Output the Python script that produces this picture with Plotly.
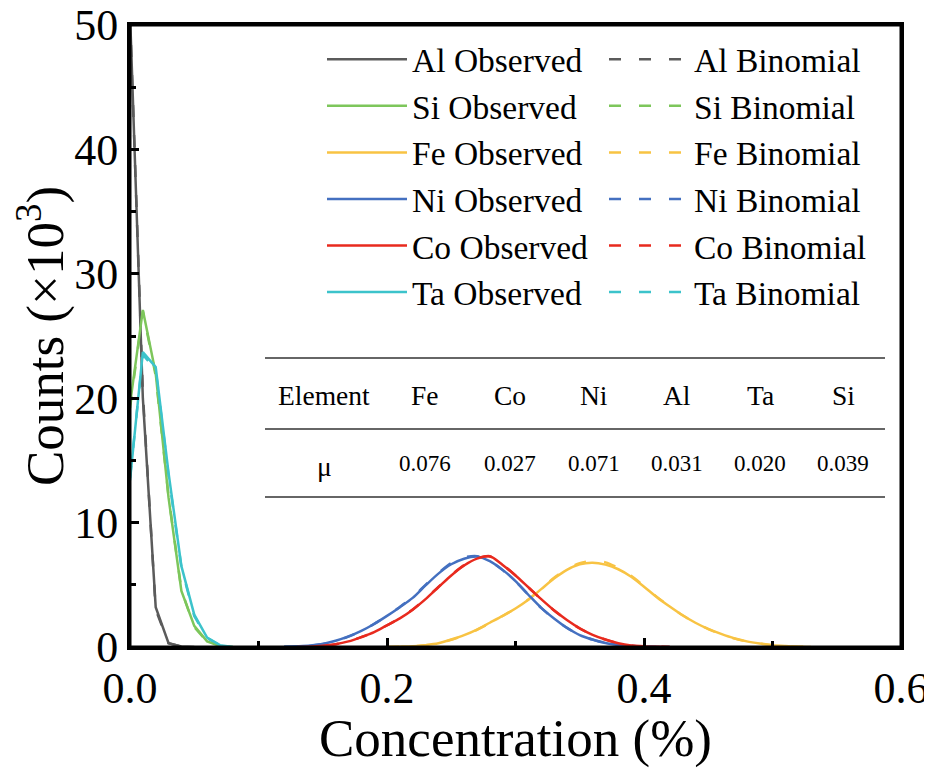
import plotly.graph_objects as go

# ---------------- data ----------------
elements_order = ["Al", "Si", "Fe", "Ni", "Co", "Ta"]
colors = {"Al": "#5b5b5b", "Si": "#7dc65b", "Fe": "#f8c343", "Ni": "#4470c0", "Co": "#e82a1e", "Ta": "#3cc3cb"}

x_low = [0.00, 0.01, 0.02, 0.03, 0.04, 0.05, 0.06, 0.07, 0.08]
al_obs = [51.0, 20.0, 3.2, 0.3, 0.05, 0.0]
al_bin = [50.8, 20.4, 3.0, 0.3, 0.03, 0.0]
si_obs = [19.5, 27.1, 22.0, 12.0, 4.5, 1.7, 0.45, 0.08, 0.0]
si_bin = [19.2, 27.0, 21.8, 12.1, 4.6, 1.6, 0.42, 0.07, 0.0]
ta_obs = [13.4, 23.7, 22.5, 14.0, 6.5, 2.6, 0.75, 0.15, 0.0]
ta_bin = [13.6, 23.5, 22.3, 13.8, 6.4, 2.5, 0.72, 0.13, 0.0]

x_ni = [0.12, 0.13, 0.14, 0.15, 0.16, 0.17, 0.18, 0.19, 0.20, 0.21, 0.22, 0.23, 0.24, 0.25, 0.26,
        0.27, 0.28, 0.29, 0.30, 0.31, 0.32, 0.33, 0.34, 0.35, 0.36, 0.37, 0.38, 0.39, 0.40, 0.41, 0.42]
ni_obs = [0.02, 0.06, 0.12, 0.25, 0.50, 0.85, 1.30, 1.85, 2.50, 3.20, 3.95, 4.95, 5.90, 6.65, 7.10,
          7.28, 6.90, 6.20, 5.30, 4.20, 3.15, 2.30, 1.55, 0.96, 0.60, 0.32, 0.17, 0.08, 0.03, 0.01, 0.0]
ni_bin = [0.02, 0.05, 0.11, 0.24, 0.48, 0.84, 1.30, 1.86, 2.52, 3.22, 4.00, 5.00, 5.95, 6.75, 7.20,
          7.30, 6.92, 6.18, 5.28, 4.20, 3.14, 2.28, 1.54, 0.96, 0.59, 0.32, 0.16, 0.08, 0.03, 0.01, 0.0]

x_co = [0.13, 0.14, 0.15, 0.16, 0.17, 0.18, 0.19, 0.20, 0.21, 0.22, 0.23, 0.24, 0.25, 0.26, 0.27,
        0.28, 0.29, 0.30, 0.31, 0.32, 0.33, 0.34, 0.35, 0.36, 0.37, 0.38, 0.39, 0.40, 0.41, 0.42]
co_obs = [0.01, 0.03, 0.10, 0.22, 0.45, 0.80, 1.20, 1.75, 2.30, 3.00, 3.85, 4.80, 5.75, 6.55, 7.10,
          7.30, 6.60, 5.75, 4.80, 3.85, 2.95, 2.17, 1.50, 0.98, 0.60, 0.30, 0.12, 0.05, 0.02, 0.0]
co_bin = [0.01, 0.03, 0.09, 0.21, 0.44, 0.79, 1.19, 1.74, 2.31, 3.02, 3.88, 4.83, 5.78, 6.58, 7.12,
          7.28, 6.62, 5.76, 4.80, 3.84, 2.94, 2.16, 1.49, 0.97, 0.59, 0.30, 0.12, 0.05, 0.02, 0.0]

x_fe = [0.20, 0.21, 0.22, 0.23, 0.24, 0.25, 0.26, 0.27, 0.28, 0.29, 0.30, 0.31, 0.32, 0.33, 0.34,
        0.35, 0.36, 0.37, 0.38, 0.39, 0.40, 0.41, 0.42, 0.43, 0.44, 0.45, 0.46, 0.47, 0.48, 0.49,
        0.50, 0.51, 0.52, 0.53]
fe_obs = [0.01, 0.03, 0.06, 0.15, 0.30, 0.60, 0.95, 1.40, 1.95, 2.50, 3.10, 3.80, 4.65, 5.50, 6.20,
          6.65, 6.78, 6.62, 6.25, 5.65, 4.85, 4.00, 3.25, 2.55, 1.95, 1.45, 1.05, 0.70, 0.45, 0.28,
          0.15, 0.08, 0.03, 0.01]
fe_bin = [0.01, 0.02, 0.06, 0.14, 0.29, 0.58, 0.93, 1.38, 1.93, 2.49, 3.10, 3.82, 4.70, 5.56, 6.26,
          6.74, 6.92, 6.80, 6.36, 5.72, 4.90, 4.03, 3.26, 2.55, 1.94, 1.44, 1.03, 0.69, 0.44, 0.27,
          0.15, 0.07, 0.03, 0.01]

series = {
    "Al": (x_low[:len(al_obs)], al_obs, al_bin),
    "Si": (x_low, si_obs, si_bin),
    "Fe": (x_fe, fe_obs, fe_bin),
    "Ni": (x_ni, ni_obs, ni_bin),
    "Co": (x_co, co_obs, co_bin),
    "Ta": (x_low, ta_obs, ta_bin),
}

table_elements = ["Fe", "Co", "Ni", "Al", "Ta", "Si"]
table_mu = ["0.076", "0.027", "0.071", "0.031", "0.020", "0.039"]

x_tickvals = [0.0, 0.2, 0.4, 0.6]
x_ticktext = ["0.0", "0.2", "0.4", "0.6"]
y_tickvals = [0, 10, 20, 30, 40, 50]

# ---------------- figure ----------------
FONT = "Liberation Serif"
OFF = 8                      # default page body margin
W, H = 932 - OFF, 760
PL, PR, PT, PB = 130, 901, 25, 647   # plot area in page pixels
L, T = PL - OFF, PT - OFF
R, B = W - (PR - OFF), H - (PB - OFF)
PW, PH = PR - PL, PB - PT

def px_x(p):
    return (p - PL) / PW

def px_y(p):
    return (PB - p) / PH

fig = go.Figure()

# binomial (dashed) first
for el in elements_order:
    xs, obs, binom = series[el]
    smooth = el in ("Fe", "Ni", "Co")
    fig.add_trace(go.Scatter(
        x=xs, y=binom, mode="lines", name=f"{el} Binomial", legend="legend2",
        line=dict(color=colors[el], width=2.5, dash="12px,18px",
                  shape="spline" if smooth else "linear", smoothing=0.8 if smooth else None),
    ))
for el in elements_order:
    xs, obs, binom = series[el]
    smooth = el in ("Fe", "Ni", "Co")
    fig.add_trace(go.Scatter(
        x=xs, y=obs, mode="lines", name=f"{el} Observed", legend="legend",
        line=dict(color=colors[el], width=2.5,
                  shape="spline" if smooth else "linear", smoothing=0.8 if smooth else None),
    ))

axis_common = dict(
    showline=True, linewidth=3, linecolor="black", mirror=True,
    ticks="inside", ticklen=9, tickwidth=3, tickcolor="black",
    showgrid=False, zeroline=False, automargin=False,
    ticklabeloverflow="allow",
    tickfont=dict(family=FONT, size=44, color="black"),
)

fig.update_xaxes(
    range=[0, 0.6], tickvals=x_tickvals, ticktext=x_ticktext,
    minor=dict(tickvals=[0.1, 0.3, 0.5], ticks="inside", ticklen=6, tickwidth=3, tickcolor="black"),
    title=dict(text="Concentration (%)", font=dict(family=FONT, size=53, color="black"), standoff=0),
    **axis_common,
)
fig.update_yaxes(
    range=[0, 50], tickvals=y_tickvals,
    minor=dict(dtick=5, ticks="inside", ticklen=6, tickwidth=3, tickcolor="black"),
    title=dict(text="Counts (×10<sup>3</sup>)", font=dict(family=FONT, size=53, color="black"), standoff=8),
    **axis_common,
)

legend_common = dict(
    font=dict(family=FONT, size=33.5, color="black"),
    bgcolor="rgba(0,0,0,0)", borderwidth=0,
    orientation="v", xanchor="left", yanchor="top", itemwidth=80,
    tracegroupgap=0,
)
fig.update_layout(
    width=W, height=H,
    margin=dict(l=L, r=R, t=T, b=B, autoexpand=False),
    paper_bgcolor="white", plot_bgcolor="white",
    legend=dict(x=px_x(322), y=px_y(31), **legend_common),
    legend2=dict(x=px_x(604), y=px_y(31), **legend_common),
)

# plot frame
fig.add_shape(type="rect", xref="paper", yref="paper", x0=0, x1=1, y0=0, y1=1,
              line=dict(color="black", width=3), layer="above")

# table
table_left, table_right = 265, 885
for ly in (358, 429, 497):
    fig.add_shape(type="line", xref="paper", yref="paper",
                  x0=px_x(table_left), x1=px_x(table_right), y0=px_y(ly), y1=px_y(ly),
                  line=dict(color="#333333", width=1.5))

col_x = [425, 510, 594, 677, 760, 843]
ann_common = dict(xref="paper", yref="paper", showarrow=False, xanchor="center", yanchor="middle")
fig.add_annotation(x=px_x(324), y=px_y(396), text="Element",
                   font=dict(family=FONT, size=27.5, color="black"), **ann_common)
fig.add_annotation(x=px_x(324), y=px_y(466), text="μ",
                   font=dict(family=FONT, size=27.5, color="black"), **ann_common)
for cx, el, mu in zip(col_x, table_elements, table_mu):
    fig.add_annotation(x=px_x(cx), y=px_y(396), text=el,
                       font=dict(family=FONT, size=27.5, color="black"), **ann_common)
    fig.add_annotation(x=px_x(cx), y=px_y(464), text=mu,
                       font=dict(family=FONT, size=23, color="black"), **ann_common)

fig.write_html("out.html")
